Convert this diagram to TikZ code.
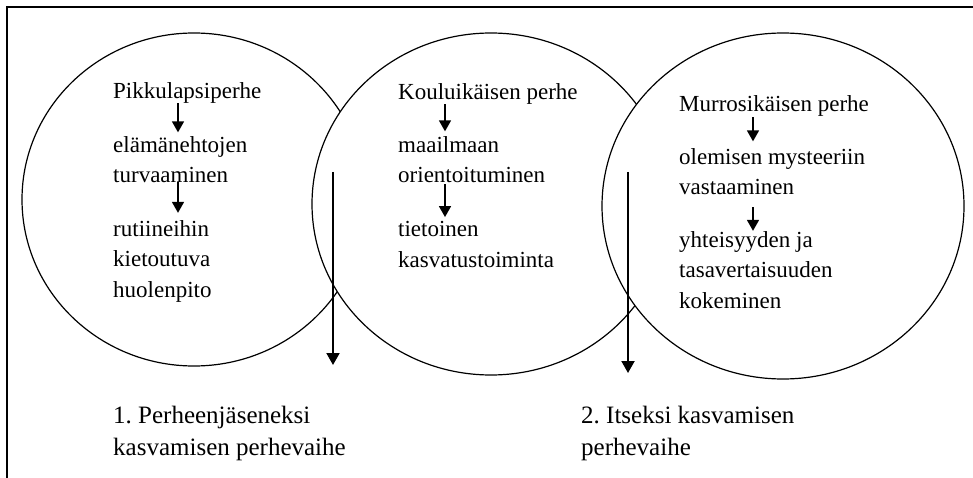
\documentclass[tikz,border=0pt]{standalone}
\usepackage{fontspec}
\setmainfont{Liberation Serif}
\usetikzlibrary{shapes.geometric,arrows.meta}
\frenchspacing

\begin{document}
\begin{tikzpicture}[x=1pt,y=-1pt,
  phase/.style={ellipse,draw,fill=white,line width=1.2pt,inner sep=0pt},
  txt/.style={anchor=base west,inner sep=0pt,align=left,font=\fontsize{23}{30.5}\selectfont},
  stage/.style={anchor=base west,inner sep=0pt,align=left,font=\fontsize{25}{32}\selectfont},
  smallarr/.style={line width=1.6pt,-{Triangle[width=12pt,length=11pt]}},
  bigarr/.style={line width=2pt,-{Triangle[width=13pt,length=12pt]}}]

\useasboundingbox (0,0) rectangle (973,478);

%% frame
\draw[line width=1.2pt] (7,478) -- (7,7) -- (973,7);

%% circles
\node[phase,minimum width=344pt,minimum height=333pt] (c1) at (194,199.5) {};
\node[phase,minimum width=358pt,minimum height=342pt] (c2) at (491,204) {};
\node[phase,minimum width=362pt,minimum height=346pt] (c3) at (783,206) {};

%% first circle (base = last line)
\node[txt] (p1) at (113,99) {Pikkulapsiperhe};
\node[txt] (p1b) at (113,183) {elämänehtojen\\turvaaminen};
\node[txt] (p1c) at (113,297) {rutiineihin\\kietoutuva\\huolenpito};

\draw[smallarr,shorten <=-1pt,shorten >=4pt] ([xshift=65pt]p1.south west) -- ([xshift=65pt]p1b.north west);
\draw[smallarr,shorten <=-1pt,shorten >=7pt] ([xshift=65pt]p1b.south west) -- ([xshift=65pt]p1c.north west);

%% second circle
\node[txt] (k1) at (398,100) {Kouluikäisen perhe};
\node[txt] (k1b) at (398,183) {maailmaan\\orientoituminen};
\node[txt] (k1c) at (398,267) {tietoinen\\kasvatustoiminta};

\draw[smallarr,shorten <=-1pt,shorten >=5pt] ([xshift=47pt]k1.south west) -- ([xshift=47pt]k1b.north west);
\draw[smallarr,shorten <=1pt,shorten >=4pt] ([xshift=47pt]k1b.south west) -- ([xshift=47pt]k1c.north west);

%% third circle
\node[txt] (m1) at (679,112) {Murrosikäisen perhe};
\node[txt] (m1b) at (679,195) {olemisen mysteeriin\\vastaaminen};
\node[txt] (m1c) at (679,308) {yhteisyyden ja\\tasavertaisuuden\\kokeminen};

\draw[smallarr,shorten >=7pt] ([xshift=74pt]m1.south west) -- ([xshift=74pt]m1b.north west);
\draw[smallarr,shorten <=12pt] ([xshift=74pt]m1b.south west) -- ([xshift=74pt]m1c.north west);

%% long arrows and phases
\coordinate (a1top) at (333,172);
\coordinate (a1end) at (333,365);
\coordinate (a2top) at (628,172);
\coordinate (a2end) at (628,373);
\draw[bigarr] (a1top) -- (a1end);
\draw[bigarr] (a2top) -- (a2end);

\node[stage] (s1) at (113,455) {1. Perheenjäseneksi\\kasvamisen perhevaihe};
\node[stage] (s2) at (581,455) {2. Itseksi kasvamisen\\perhevaihe};

\end{tikzpicture}
\end{document}
